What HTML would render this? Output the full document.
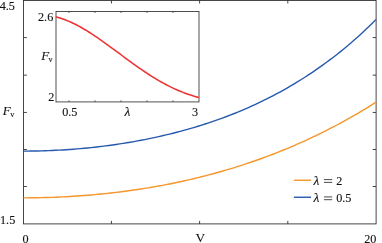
<!DOCTYPE html>
<html><head><meta charset="utf-8"><title>chart</title>
<style>
html,body{margin:0;padding:0;background:#fff;}
body{width:382px;height:243px;overflow:hidden;}
svg{display:block;will-change:transform;}
text{font-family:"Liberation Serif",serif;font-size:12.2px;fill:#111;stroke:#111;stroke-width:0.12px;}
.it{font-style:italic;}
</style></head><body>
<svg width="382" height="243" viewBox="0 0 382 243">
<rect width="382" height="243" fill="#fff"/>
<rect x="23.5" y="0.5" width="352.60" height="223.40" fill="none" stroke="#262626" stroke-width="0.85"/>

<path d="M23.5,37.60h3.4M376.1,37.60h-3.4" stroke="#262626" stroke-width="0.85" fill="none"/>
<path d="M23.5,75.15h3.4M376.1,75.15h-3.4" stroke="#262626" stroke-width="0.85" fill="none"/>
<path d="M23.5,112.45h3.4M376.1,112.45h-3.4" stroke="#262626" stroke-width="0.85" fill="none"/>
<path d="M23.5,149.50h3.4M376.1,149.50h-3.4" stroke="#262626" stroke-width="0.85" fill="none"/>
<path d="M23.5,186.50h3.4M376.1,186.50h-3.4" stroke="#262626" stroke-width="0.85" fill="none"/>
<path d="M111.45,0.5v3M111.45,223.9v-3" stroke="#262626" stroke-width="0.85" fill="none"/>
<path d="M199.60,0.5v3M199.60,223.9v-3" stroke="#262626" stroke-width="0.85" fill="none"/>
<path d="M287.80,0.5v3M287.80,223.9v-3" stroke="#262626" stroke-width="0.85" fill="none"/>
<path d="M23.50,197.83 L27.06,197.83 L30.62,197.80 L34.18,197.76 L37.75,197.71 L41.31,197.64 L44.87,197.55 L48.43,197.45 L51.99,197.33 L55.55,197.19 L59.12,197.04 L62.68,196.88 L66.24,196.69 L69.80,196.49 L73.36,196.28 L76.92,196.05 L80.49,195.80 L84.05,195.53 L87.61,195.25 L91.17,194.96 L94.73,194.64 L98.29,194.31 L101.86,193.96 L105.42,193.60 L108.98,193.21 L112.54,192.81 L116.10,192.40 L119.66,191.96 L123.23,191.51 L126.79,191.04 L130.35,190.55 L133.91,190.04 L137.47,189.52 L141.03,188.97 L144.59,188.41 L148.16,187.83 L151.72,187.23 L155.28,186.61 L158.84,185.97 L162.40,185.32 L165.96,184.64 L169.53,183.94 L173.09,183.23 L176.65,182.49 L180.21,181.73 L183.77,180.95 L187.33,180.16 L190.90,179.34 L194.46,178.50 L198.02,177.63 L201.58,176.75 L205.14,175.85 L208.70,174.92 L212.27,173.97 L215.83,173.00 L219.39,172.00 L222.95,170.99 L226.51,169.95 L230.07,168.88 L233.64,167.80 L237.20,166.69 L240.76,165.55 L244.32,164.40 L247.88,163.21 L251.44,162.01 L255.01,160.78 L258.57,159.52 L262.13,158.24 L265.69,156.93 L269.25,155.60 L272.81,154.24 L276.37,152.85 L279.94,151.44 L283.50,150.00 L287.06,148.53 L290.62,147.04 L294.18,145.52 L297.74,143.97 L301.31,142.39 L304.87,140.79 L308.43,139.15 L311.99,137.49 L315.55,135.80 L319.11,134.07 L322.68,132.32 L326.24,130.54 L329.80,128.72 L333.36,126.88 L336.92,125.00 L340.48,123.10 L344.05,121.15 L347.61,119.18 L351.17,117.17 L354.73,115.13 L358.29,113.06 L361.85,110.95 L365.42,108.81 L368.98,106.63 L372.54,104.42 L376.10,102.16" fill="none" stroke="#F6962C" stroke-width="1.4"/>
<path d="M23.50,151.11 L27.06,151.10 L30.62,151.07 L34.18,151.02 L37.75,150.95 L41.31,150.86 L44.87,150.76 L48.43,150.63 L51.99,150.49 L55.55,150.32 L59.12,150.13 L62.68,149.93 L66.24,149.71 L69.80,149.46 L73.36,149.20 L76.92,148.91 L80.49,148.61 L84.05,148.29 L87.61,147.94 L91.17,147.58 L94.73,147.19 L98.29,146.79 L101.86,146.36 L105.42,145.91 L108.98,145.45 L112.54,144.96 L116.10,144.45 L119.66,143.92 L123.23,143.36 L126.79,142.79 L130.35,142.19 L133.91,141.57 L137.47,140.93 L141.03,140.26 L144.59,139.57 L148.16,138.86 L151.72,138.13 L155.28,137.37 L158.84,136.58 L162.40,135.78 L165.96,134.94 L169.53,134.08 L173.09,133.20 L176.65,132.29 L180.21,131.35 L183.77,130.38 L187.33,129.39 L190.90,128.37 L194.46,127.32 L198.02,126.24 L201.58,125.13 L205.14,124.00 L208.70,122.83 L212.27,121.63 L215.83,120.39 L219.39,119.13 L222.95,117.83 L226.51,116.50 L230.07,115.14 L233.64,113.73 L237.20,112.30 L240.76,110.83 L244.32,109.32 L247.88,107.77 L251.44,106.18 L255.01,104.56 L258.57,102.89 L262.13,101.19 L265.69,99.44 L269.25,97.65 L272.81,95.82 L276.37,93.94 L279.94,92.02 L283.50,90.05 L287.06,88.04 L290.62,85.98 L294.18,83.87 L297.74,81.71 L301.31,79.50 L304.87,77.24 L308.43,74.93 L311.99,72.57 L315.55,70.15 L319.11,67.67 L322.68,65.14 L326.24,62.55 L329.80,59.91 L333.36,57.20 L336.92,54.43 L340.48,51.59 L344.05,48.69 L347.61,45.73 L351.17,42.69 L354.73,39.59 L358.29,36.41 L361.85,33.16 L365.42,29.83 L368.98,26.43 L372.54,22.94 L376.10,19.37" fill="none" stroke="#2659AD" stroke-width="1.4"/>
<rect x="56.0" y="11.45" width="143.00" height="90.47" fill="#fff" stroke="#262626" stroke-width="0.8"/>
<path d="M69.00,11.45v1.5M69.00,101.92v-1.5" stroke="#262626" stroke-width="0.75" fill="none"/>
<path d="M95.00,11.45v1.5M95.00,101.92v-1.5" stroke="#262626" stroke-width="0.75" fill="none"/>
<path d="M121.00,11.45v1.5M121.00,101.92v-1.5" stroke="#262626" stroke-width="0.75" fill="none"/>
<path d="M147.00,11.45v1.5M147.00,101.92v-1.5" stroke="#262626" stroke-width="0.75" fill="none"/>
<path d="M173.00,11.45v1.5M173.00,101.92v-1.5" stroke="#262626" stroke-width="0.75" fill="none"/>
<path d="M56.00,16.84 L58.07,17.41 L60.14,18.04 L62.22,18.73 L64.29,19.47 L66.36,20.27 L68.43,21.13 L70.51,22.04 L72.58,23.00 L74.65,24.01 L76.72,25.06 L78.80,26.16 L80.87,27.30 L82.94,28.49 L85.01,29.71 L87.09,30.96 L89.16,32.26 L91.23,33.58 L93.30,34.93 L95.38,36.31 L97.45,37.72 L99.52,39.15 L101.59,40.60 L103.67,42.06 L105.74,43.55 L107.81,45.05 L109.88,46.56 L111.96,48.08 L114.03,49.60 L116.10,51.14 L118.17,52.67 L120.25,54.21 L122.32,55.75 L124.39,57.28 L126.46,58.81 L128.54,60.33 L130.61,61.84 L132.68,63.34 L134.75,64.83 L136.83,66.30 L138.90,67.76 L140.97,69.20 L143.04,70.61 L145.12,72.01 L147.19,73.38 L149.26,74.73 L151.33,76.06 L153.41,77.35 L155.48,78.62 L157.55,79.86 L159.62,81.07 L161.70,82.25 L163.77,83.39 L165.84,84.50 L167.91,85.58 L169.99,86.62 L172.06,87.63 L174.13,88.60 L176.20,89.54 L178.28,90.44 L180.35,91.31 L182.42,92.14 L184.49,92.93 L186.57,93.69 L188.64,94.42 L190.71,95.11 L192.78,95.77 L194.86,96.39 L196.93,96.99 L199.00,97.55" fill="none" stroke="#EF3232" stroke-width="1.55"/>
<g opacity="0.999">
<text x="-0.3" y="10.2">4.5</text>
<text x="0" y="223.5">1.5</text>
<g transform="translate(0,234) scale(1,1.1) rotate(0.02) translate(0,-234)">
<text x="22.5" y="242.0">0</text>
<text x="376.4" y="242.0" text-anchor="end">20</text>
</g>
<text x="200.4" y="242.2" text-anchor="middle" style="font-size:13.4px">V</text>
<text x="2.7" y="115.1"><tspan class="it" font-size="13px">F</tspan><tspan dy="1.8" dx="-0.4" font-size="8.2px">v</tspan></text>
<text x="38" y="21.3">2.6</text>
<text x="48.3" y="100.9">2</text>
<text x="62.2" y="115.6">0.5</text>
<text x="192.0" y="115.6">3</text>
<text x="127.4" y="115.6" text-anchor="middle" class="it" style="font-size:13.5px">λ</text>
<text x="41.2" y="60.4"><tspan class="it" font-size="13px">F</tspan><tspan dy="2.0" dx="-0.6" font-size="8.2px">v</tspan></text>
<path d="M293.9,180.25H311" stroke="#F6962C" stroke-width="1.4"/>
<path d="M293.9,197.25H311" stroke="#2659AD" stroke-width="1.4"/>
<text x="313.6" y="184.6"><tspan class="it" font-size="13.5px">λ</tspan><tspan x="325" fill="none" stroke="none"> = </tspan><tspan x="336.2">2</tspan></text>
<path d="M323.9,179.6H332.2M323.9,182.4H332.2" stroke="#111" stroke-width="0.75" fill="none"/>
<text x="313.6" y="201.9"><tspan class="it" font-size="13.5px">λ</tspan><tspan x="325" fill="none" stroke="none"> = </tspan><tspan x="336.2">0.5</tspan></text>
<path d="M323.9,196.9H332.2M323.9,199.7H332.2" stroke="#111" stroke-width="0.75" fill="none"/>
</g>
</svg></body></html>
